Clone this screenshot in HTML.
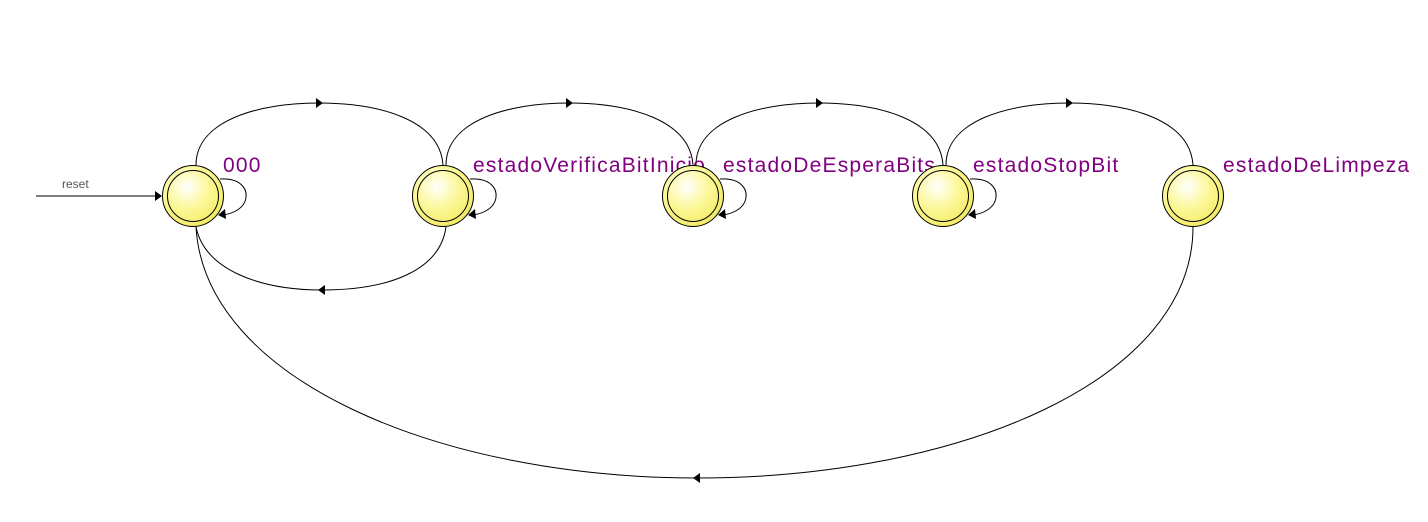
<!DOCTYPE html>
<html><head><style>html,body{margin:0;padding:0;background:#fff;width:1428px;height:522px;overflow:hidden}</style></head>
<body>
<svg width="1428" height="522" viewBox="0 0 1428 522" xmlns="http://www.w3.org/2000/svg">
<defs>
<radialGradient id="g" cx="0.4" cy="0.35" r="0.7">
<stop offset="0" stop-color="#ffffff"/><stop offset="0.5" stop-color="#fcf89a"/><stop offset="1" stop-color="#f2ea60"/>
</radialGradient>
</defs>
<g fill="none" stroke="#000" stroke-width="1">
<line x1="36" y1="196" x2="158" y2="196"/>
<path d="M196 165 C196 120 260 103 318 103 C380 103 440 120 443 165"/>
<path d="M446 165 C446 120 510 103 568 103 C630 103 690 120 693 165"/>
<path d="M696 165 C696 120 760 103 818 103 C880 103 940 120 943 165"/>
<path d="M946 165 C946 120 1010 103 1068 103 C1130 103 1190 120 1193 165"/>
<path d="M196 227 C205 270 260 290 322 290 C390 290 440 270 446 227"/>
<path d="M196 227 C205 380 440 478 697 478 C960 478 1193 380 1193 227"/>
<path d="M220 179 C240 178 247 188 246 197 C245 208 233 214 222 215"/>
<path d="M470 179 C490 178 497 188 496 197 C495 208 483 214 472 215"/>
<path d="M720 179 C740 178 747 188 746 197 C745 208 733 214 722 215"/>
<path d="M970 179 C990 178 997 188 996 197 C995 208 983 214 972 215"/>
</g>
<g fill="#000">
<polygon points="162,196 155,191 155,201"/>
<polygon points="323,103 316,98 316,108"/>
<polygon points="573,103 566,98 566,108"/>
<polygon points="823,103 816,98 816,108"/>
<polygon points="1073,103 1066,98 1066,108"/>
<polygon points="318,290 325,285 325,295"/>
<polygon points="693,478 700,473 700,483"/>
<polygon points="218,215 225,209 226,219"/>
<polygon points="468,215 475,209 476,219"/>
<polygon points="718,215 725,209 726,219"/>
<polygon points="968,215 975,209 976,219"/>
</g>
<text x="62" y="188" font-family="Liberation Sans, sans-serif" font-size="12" fill="#555">reset</text>
<g font-family="Liberation Sans, sans-serif" font-size="21" letter-spacing="1.2" fill="#800080">
<text x="223" y="172">000</text>
<text x="473" y="172">estadoVerificaBitInicio</text>
<text x="723" y="172">estadoDeEsperaBits</text>
<text x="973" y="172">estadoStopBit</text>
<text x="1223" y="172">estadoDeLimpeza</text>
</g>
<g stroke="#000" stroke-width="1">
<circle cx="193" cy="196" r="30.5" fill="url(#g)"/><circle cx="193" cy="196" r="25.5" fill="none"/>
<circle cx="443" cy="196" r="30.5" fill="url(#g)"/><circle cx="443" cy="196" r="25.5" fill="none"/>
<circle cx="693" cy="196" r="30.5" fill="url(#g)"/><circle cx="693" cy="196" r="25.5" fill="none"/>
<circle cx="943" cy="196" r="30.5" fill="url(#g)"/><circle cx="943" cy="196" r="25.5" fill="none"/>
<circle cx="1193" cy="196" r="30.5" fill="url(#g)"/><circle cx="1193" cy="196" r="25.5" fill="none"/>
</g>
</svg>
</body></html>
